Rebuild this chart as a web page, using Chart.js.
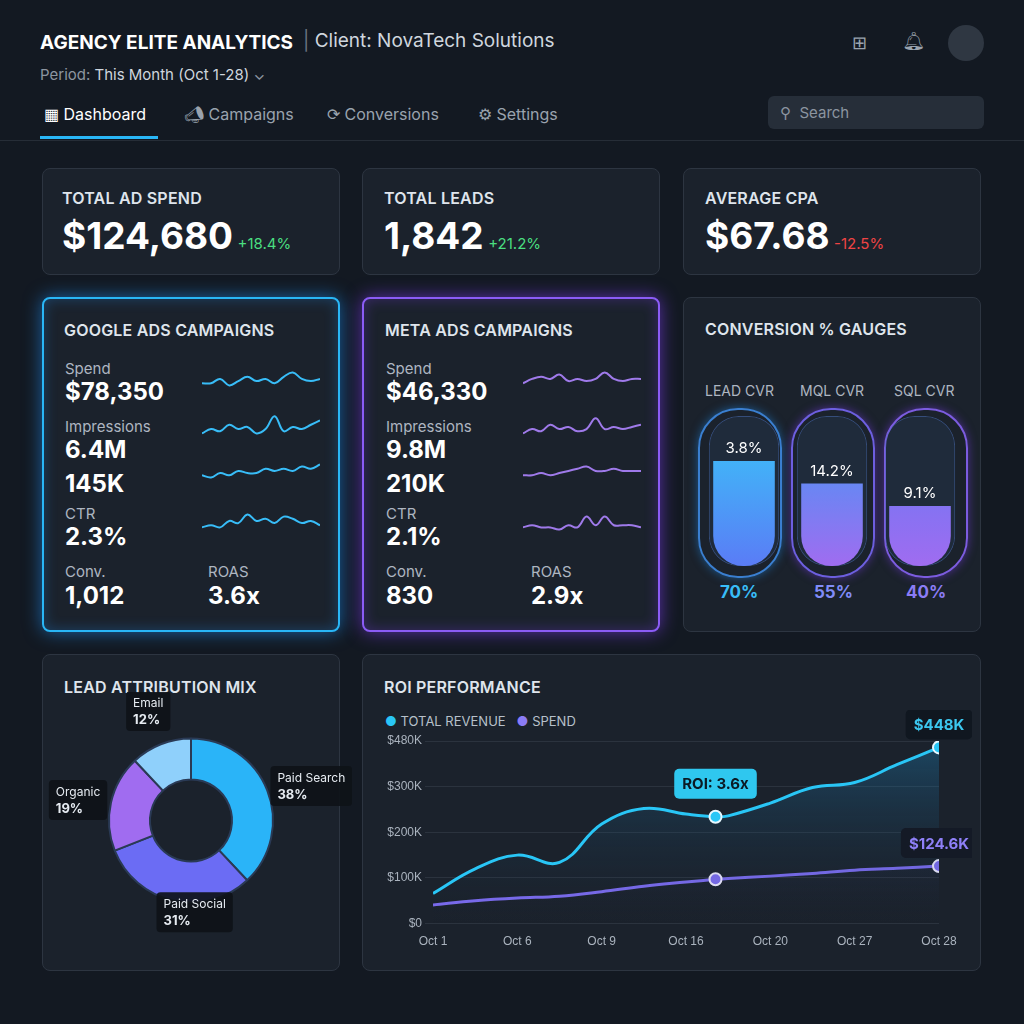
<!DOCTYPE html>
<html><head><meta charset="utf-8">
<script src="https://cdn.jsdelivr.net/npm/chart.js@4"></script>
<style>
body{margin:0;width:1024px;height:1024px;background:#131922;font-family:Inter,"Noto Sans",sans-serif;color:#e8edf3;position:relative;overflow:hidden}
.a{position:absolute}
.card{position:absolute;background:#1b222c;border:1px solid #2d3541;border-radius:8px;box-sizing:border-box}
.ttl{position:absolute;font-weight:600;font-size:16px;color:#dfe5ec;letter-spacing:.2px}
.big{font-weight:700;font-size:37px;color:#fff}
.lbl{position:absolute;font-size:15px;color:#aeb6c1}
.val{position:absolute;font-size:24px;font-weight:700;color:#fff}
.nav{position:absolute;top:104px;font-size:16px;color:#9aa3ae}
</style></head><body>
<div class="a" style="left:40px;top:31px;font-size:19px;font-weight:700;color:#fff">AGENCY ELITE ANALYTICS</div>
<div class="a" style="left:303px;top:29px;font-size:19px;color:#cfd6de"><span style="color:#6b7480">|</span> Client: NovaTech Solutions</div>
<div class="a" style="left:40px;top:65px;font-size:15px;color:#8c95a0">Period: <span style="color:#cfd6de">This Month (Oct 1-28)</span> ⌄</div>
<div class="nav" style="left:44px;color:#fff">▦ Dashboard</div>
<div class="a" style="left:40px;top:136px;width:118px;height:3px;background:#29b6f6"></div>
<div class="nav" style="left:184px">📣︎ Campaigns</div>
<div class="nav" style="left:327px">⟳ Conversions</div>
<div class="nav" style="left:478px">⚙ Settings</div>
<div class="a" style="left:0;top:140px;width:1024px;height:1px;background:#262d37"></div>
<div class="a" style="left:768px;top:96px;width:216px;height:33px;background:#262e39;border-radius:6px;box-sizing:border-box;padding:7px 0 0 12px;font-size:15px;color:#8c95a0">⚲ &nbsp;Search</div>
<div class="a" style="left:852px;top:32px;font-size:18px;color:#9aa3ae">⊞</div>
<div class="a" style="left:902px;top:30px;font-size:18px;color:#9aa3ae">🔔︎</div>
<div class="a" style="left:948px;top:25px;width:36px;height:36px;border-radius:18px;background:#2f3742"></div>

<div class="card" style="left:42px;top:168px;width:298px;height:107px"><div class="ttl" style="left:19px;top:19px">TOTAL AD SPEND</div><div class="a" style="left:19px;top:44px"><span class="big">$124,680</span> <span style="color:#4ade80;font-size:15px">+18.4%</span></div></div>
<div class="card" style="left:362px;top:168px;width:298px;height:107px"><div class="ttl" style="left:21px;top:19px">TOTAL LEADS</div><div class="a" style="left:21px;top:44px"><span class="big">1,842</span> <span style="color:#4ade80;font-size:15px">+21.2%</span></div></div>
<div class="card" style="left:683px;top:168px;width:298px;height:107px"><div class="ttl" style="left:21px;top:19px">AVERAGE CPA</div><div class="a" style="left:21px;top:44px"><span class="big">$67.68</span> <span style="color:#ef4444;font-size:15px">-12.5%</span></div></div>

<div class="card" style="left:42px;top:297px;width:298px;height:335px;border:2px solid #29b6f6;box-shadow:0 0 18px #1e88e5aa,inset 0 0 14px #1e88e555">
<div class="ttl" style="left:20px;top:21px">GOOGLE ADS CAMPAIGNS</div>
<div class="lbl" style="left:21px;top:60px">Spend</div><div class="val" style="left:21px;top:78px">$78,350</div>
<div class="lbl" style="left:21px;top:118px">Impressions</div><div class="val" style="left:21px;top:136px">6.4M</div>
<div class="val" style="left:21px;top:170px">145K</div>
<div class="lbl" style="left:21px;top:205px">CTR</div><div class="val" style="left:21px;top:223px">2.3%</div>
<div class="lbl" style="left:21px;top:263px">Conv.</div><div class="val" style="left:21px;top:282px">1,012</div>
<div class="lbl" style="left:164px;top:263px">ROAS</div><div class="val" style="left:164px;top:282px">3.6x</div>
</div>
<div class="card" style="left:362px;top:297px;width:298px;height:335px;border:2px solid #8b5cf6;box-shadow:0 0 18px #7c3aedaa,inset 0 0 14px #7c3aed55">
<div class="ttl" style="left:21px;top:21px">META ADS CAMPAIGNS</div>
<div class="lbl" style="left:22px;top:60px">Spend</div><div class="val" style="left:22px;top:78px">$46,330</div>
<div class="lbl" style="left:22px;top:118px">Impressions</div><div class="val" style="left:22px;top:136px">9.8M</div>
<div class="val" style="left:22px;top:170px">210K</div>
<div class="lbl" style="left:22px;top:205px">CTR</div><div class="val" style="left:22px;top:223px">2.1%</div>
<div class="lbl" style="left:22px;top:263px">Conv.</div><div class="val" style="left:22px;top:282px">830</div>
<div class="lbl" style="left:167px;top:263px">ROAS</div><div class="val" style="left:167px;top:282px">2.9x</div>
</div>
<div class="card" style="left:683px;top:297px;width:298px;height:335px">
<div class="ttl" style="left:21px;top:21px">CONVERSION % GAUGES</div>
<div class="lbl" style="left:21px;top:84px;font-size:14px">LEAD CVR</div>
<div class="lbl" style="left:116px;top:84px;font-size:14px">MQL CVR</div>
<div class="lbl" style="left:210px;top:84px;font-size:14px">SQL CVR</div>
<div class="a" style="left:14px;top:110px;width:80px;height:166px;border:2px solid #3a7fd0;border-radius:40px;box-shadow:0 0 10px #1e88e588"></div>
<div class="a" style="left:107px;top:110px;width:80px;height:166px;border:2px solid #6d5fe0;border-radius:40px;box-shadow:0 0 10px #7c3aed88"></div>
<div class="a" style="left:200px;top:110px;width:80px;height:166px;border:2px solid #7c5ce0;border-radius:40px;box-shadow:0 0 10px #7c3aed88"></div>
<canvas id="gauges" class="a" style="left:14px;top:110px;width:268px;height:166px"></canvas>
<div class="a" style="left:36px;top:284px;font-size:17px;font-weight:700;color:#38bdf8">70%</div>
<div class="a" style="left:130px;top:284px;font-size:17px;font-weight:700;color:#818cf8">55%</div>
<div class="a" style="left:222px;top:284px;font-size:17px;font-weight:700;color:#8b7cf6">40%</div>
</div>

<div class="card" style="left:42px;top:654px;width:298px;height:317px"><div class="ttl" style="left:21px;top:22px">LEAD ATTRIBUTION MIX</div></div>
<div class="card" style="left:362px;top:654px;width:619px;height:317px"><div class="ttl" style="left:21px;top:22px">ROI PERFORMANCE</div>
<div class="a" style="left:22px;top:58px;font-size:13px;color:#b7c0ca"><span style="color:#29c6f6">●</span> TOTAL REVENUE &nbsp; <span style="color:#8b7cf6">●</span> SPEND</div></div>

<canvas id="donut" class="a" style="left:30px;top:692px;width:322px;height:260px"></canvas>
<canvas id="roi" class="a" style="left:372px;top:710px;width:600px;height:242px"></canvas>
<script>
const sparkG = [
  [5,5,7,4,6,8,6,7,5,8,10,7,6,7],
  [4,6,5,8,6,7,4,6,12,5,7,6,8,10],
  [5,4,6,5,7,6,6,8,7,8,7,9,8,10],
  [4,5,4,7,6,10,7,8,6,9,8,6,7,5]
];
const sparkM = [
  [5,7,8,7,9,6,7,6,7,10,7,6,7,7],
  [4,6,5,8,6,7,5,6,11,6,7,6,7,8],
  [5,5,6,5,6,7,8,9,7,7,8,7,7,7],
  [4,5,4,4,3,5,4,9,5,9,5,5,5,4]
];
const gaugeLabels = ["LEAD CVR","MQL CVR","SQL CVR"];
const gaugeFill = [70,55,40];
const gaugeText = ["3.8%","14.2%","9.1%"];
const mixLabels = ["Paid Search","Paid Social","Organic","Email"];
const mixValues = [38,31,19,12];
const roiX = [0,0.5,1,1.5,2,2.5,3,3.35,3.5,4,4.5,5,5.5,6];
const revenue = [66,120,150,134,218,252,240,234,236,264,298,309,348,386];
const spend = [41,50,56,60,70,82,91,97,99,104,110,117,121,126];
const dateLabels = ["Oct 1","Oct 6","Oct 9","Oct 16","Oct 20","Oct 27","Oct 28"];
const yLabels = ["$0","$100K","$200K","$300K","$480K"];

// sparklines
function spark(data, left, top, color) {
  const c = document.createElement("canvas");
  c.className = "a";
  c.style.cssText = `left:${left}px;top:${top}px;width:118px;height:28px`;
  document.body.appendChild(c);
  new Chart(c, {
    type: "line",
    data: { labels: data.map((_, i) => i), datasets: [{ data, borderColor: color, borderWidth: 2, pointRadius: 0, tension: 0.4 }] },
    options: { responsive: false, animation: false, plugins: { legend: { display: false }, tooltip: { enabled: false } },
      scales: { x: { display: false }, y: { display: false, min: 0, max: 13 } } }
  });
}
const sparkTops = [366, 414, 458, 508];
sparkG.forEach((d, i) => spark(d, 202, sparkTops[i], "#38bdf8"));
sparkM.forEach((d, i) => spark(d, 523, sparkTops[i], "#9f7aea"));

// gauges
const gctx = document.getElementById("gauges");
const gGrad = (ctx, i) => {
  const area = ctx.chart.chartArea;
  if (!area) return "#38bdf8";
  const g = ctx.chart.ctx.createLinearGradient(0, area.top, 0, area.bottom);
  const tops = ["#38c8f8", "#3b9cf6", "#5b7cf6"];
  g.addColorStop(0, tops[i]); g.addColorStop(1, i === 0 ? "#5a7cf6" : "#a06cf0");
  return g;
};
new Chart(gctx, {
  type: "bar",
  data: { labels: gaugeLabels, datasets: [
    { data: gaugeFill, backgroundColor: (c) => gGrad(c, c.dataIndex), borderRadius: { topLeft: 0, topRight: 0, bottomLeft: 30, bottomRight: 30 }, borderSkipped: false, categoryPercentage: 1, barPercentage: 0.7 },
    { data: [100,100,100], backgroundColor: "rgba(40,60,90,0.35)", borderColor: "rgba(80,120,200,0.5)", borderWidth: 1, borderRadius: 30, borderSkipped: false, categoryPercentage: 1, barPercentage: 0.8 }
  ] },
  options: { responsive: false, animation: false, layout: { padding: { top: 8, bottom: 8, left: 2, right: 2 } },
    datasets: { bar: { grouped: false } },
    plugins: { legend: { display: false }, tooltip: { enabled: false } },
    scales: { x: { display: false }, y: { display: false, min: 0, max: 100 } } },
  plugins: [{ id: "gtext", afterDatasetsDraw(chart) {
    const ctx = chart.ctx;
    chart.getDatasetMeta(0).data.forEach((b, i) => {
      ctx.fillStyle = "#fff"; ctx.font = "15px Inter"; ctx.textAlign = "center";
      ctx.fillText(gaugeText[i], b.x, b.y - 8);
    });
  } }]
});

// donut
const mixColors = ["#2ab4f8", "#6b6cf4", "#a06cf0", "#8fd0fb"];
new Chart(document.getElementById("donut"), {
  type: "doughnut",
  data: { labels: mixLabels, datasets: [{ data: mixValues, backgroundColor: mixColors, borderColor: "#2a3a55", borderWidth: 2 }] },
  options: { responsive: false, animation: false, cutout: "50%", layout: { padding: { top: 42, bottom: 45, left: 78, right: 78 } },
    plugins: { legend: { display: false }, tooltip: { enabled: false } } },
  plugins: [{ id: "callouts", afterDatasetsDraw(chart) {
    const ctx = chart.ctx;
    chart.getDatasetMeta(0).data.forEach((a, i) => {
      const mid = (a.startAngle + a.endAngle) / 2;
      const r = a.outerRadius + 12;
      let x = a.x + Math.cos(mid) * r, y = a.y + Math.sin(mid) * r;
      ctx.font = "12px Inter";
      const bw = Math.max(ctx.measureText(mixLabels[i]).width, 30) + 14, bh = 40;
      let bx = Math.cos(mid) >= 0 ? x - 8 : x - bw + 8;
      if (i === 1) bx = x - 14;
      if (i === 3) { bx = x - bw + 14; y -= 22; }
      ctx.fillStyle = "rgba(14,18,24,0.92)";
      ctx.beginPath(); ctx.roundRect(bx, y - bh / 2, bw, bh, 4); ctx.fill();
      ctx.fillStyle = "#e6ebf1"; ctx.textAlign = "left";
      ctx.fillText(mixLabels[i], bx + 7, y - 4);
      ctx.font = "bold 13px Inter";
      ctx.fillText(mixValues[i] + "%", bx + 7, y + 13);
    });
  } }]
});

// ROI line chart
const roiCanvas = document.getElementById("roi");
const fillGrad = (c, col) => {
  const area = c.chart.chartArea;
  if (!area) return col;
  const g = c.chart.ctx.createLinearGradient(0, area.top, 0, area.bottom);
  g.addColorStop(0, col); g.addColorStop(1, "rgba(30,40,60,0)");
  return g;
};
const hlPoint = (i) => (i === 7 || i === roiX.length - 1) ? 6 : 0;
new Chart(roiCanvas, {
  type: "line",
  data: { datasets: [
    { label: "TOTAL REVENUE", data: roiX.map((x, i) => ({ x, y: revenue[i] })), borderColor: "#29c6f6", borderWidth: 3, tension: 0.4, fill: "origin",
      backgroundColor: (c) => fillGrad(c, "rgba(30,140,200,0.35)"), pointRadius: (c) => hlPoint(c.dataIndex), pointBackgroundColor: "#29c6f6", pointBorderColor: "#e8f8ff", pointBorderWidth: 2 },
    { label: "SPEND", data: roiX.map((x, i) => ({ x, y: spend[i] })), borderColor: "#7c6cf0", borderWidth: 3, tension: 0.4, fill: "origin",
      backgroundColor: (c) => fillGrad(c, "rgba(110,90,220,0.25)"), pointRadius: (c) => hlPoint(c.dataIndex), pointBackgroundColor: "#7c6cf0", pointBorderColor: "#eeeaff", pointBorderWidth: 2 }
  ] },
  options: { responsive: false, animation: false, layout: { padding: { top: 31, right: 33 } },
    plugins: { legend: { display: false }, tooltip: { enabled: false } },
    scales: {
      x: { type: "linear", min: 0, max: 6, grid: { display: false }, border: { display: false },
        ticks: { stepSize: 1, color: "#aab3be", font: { size: 12 }, callback: (v) => dateLabels[v] } },
      y: { min: 0, max: 400, afterFit: (s) => { s.width = 61; }, grid: { color: "#2b333e" }, border: { display: false },
        ticks: { stepSize: 100, color: "#aab3be", font: { size: 12 }, callback: (v) => yLabels[v / 100] } }
    } },
  plugins: [{ id: "tags", afterDatasetsDraw(chart) {
    const ctx = chart.ctx;
    const r = chart.getDatasetMeta(0).data, s = chart.getDatasetMeta(1).data;
    const tag = (x, y, text, bg, fg) => {
      ctx.font = "bold 15px Inter";
      const w = ctx.measureText(text).width + 16;
      ctx.fillStyle = bg; ctx.beginPath(); ctx.roundRect(x - w / 2, y - 15, w, 30, 5); ctx.fill();
      ctx.fillStyle = fg; ctx.textAlign = "center"; ctx.textBaseline = "middle"; ctx.fillText(text, x, y + 1);
    };
    const last = r.length - 1;
    tag(r[7].x, r[7].y - 33, "ROI: 3.6x", "#2fc7ef", "#0b1a24");
    tag(r[last].x, r[last].y - 23, "$448K", "#101720", "#3cc8f0");
    tag(s[last].x, s[last].y - 23, "$124.6K", "#141a26", "#8f80f8");
  } }]
});
</script>
</body></html>
